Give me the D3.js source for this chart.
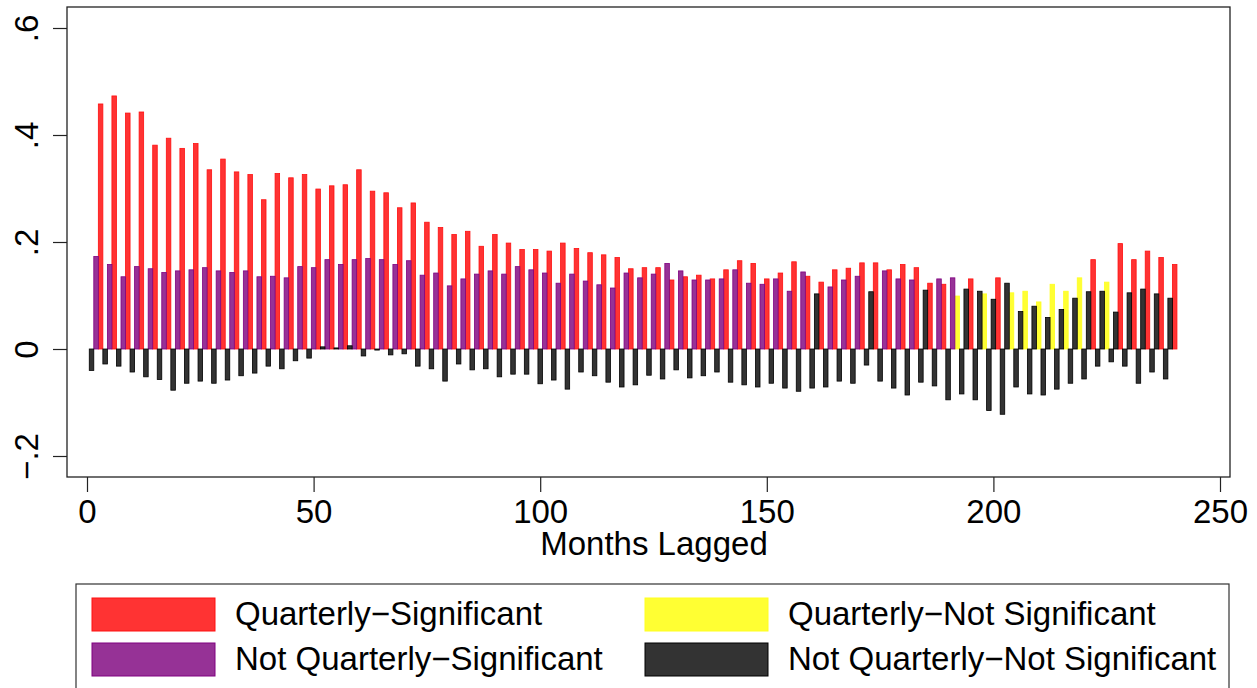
<!DOCTYPE html>
<html><head><meta charset="utf-8">
<script src="https://cdn.jsdelivr.net/npm/d3@7"></script>
<style>body{margin:0;background:#fff}svg{display:block}text{font-family:"Liberation Sans",Arial,sans-serif;fill:#000}</style>
</head><body><svg id="chart" width="1257" height="688"></svg>
<script>
// Months lagged (categories)
const lagMonths = d3.range(1, 241);
// Coefficient per month lag
const coefficients = [
 -0.040,0.173,0.458, -0.028,0.158,0.473, -0.032,0.135,0.441, -0.043,0.154,0.443,
 -0.052,0.150,0.381, -0.057,0.143,0.394, -0.077,0.146,0.375, -0.064,0.148,0.384,
 -0.060,0.152,0.335, -0.064,0.146,0.355, -0.058,0.143,0.331, -0.050,0.146,0.326,
 -0.045,0.135,0.279, -0.032,0.136,0.328, -0.037,0.133,0.320, -0.022,0.154,0.326,
 -0.017,0.152,0.299, 0.004,0.167,0.305, 0.002,0.158,0.307, 0.006,0.167,0.335,
 -0.013,0.169,0.295, -0.002,0.167,0.292, -0.011,0.158,0.264, -0.009,0.165,0.273,
 -0.032,0.138,0.237, -0.037,0.142,0.227, -0.060,0.118,0.214, -0.028,0.131,0.220,
 -0.039,0.140,0.192, -0.037,0.146,0.214, -0.052,0.140,0.198, -0.047,0.154,0.186,
 -0.047,0.148,0.186, -0.065,0.142,0.183, -0.058,0.123,0.198, -0.075,0.140,0.188,
 -0.043,0.127,0.180, -0.050,0.120,0.176, -0.062,0.114,0.171, -0.071,0.142,0.150,
 -0.067,0.133,0.152, -0.049,0.140,0.152, -0.056,0.160,0.129, -0.039,0.146,0.135,
 -0.054,0.129,0.138, -0.050,0.129,0.131, -0.043,0.131,0.148, -0.062,0.148,0.165,
 -0.067,0.123,0.160, -0.071,0.121,0.131, -0.064,0.131,0.142, -0.073,0.108,0.163,
 -0.079,0.144,0.136, -0.073,0.103,0.125, -0.071,0.116,0.148, -0.060,0.129,0.151,
 -0.064,0.136,0.161, -0.030,0.107,0.161, -0.060,0.146,0.148, -0.073,0.131,0.158,
 -0.086,0.129,0.152, -0.062,0.110,0.123, -0.069,0.131,0.121, -0.095,0.133,0.099,
 -0.084,0.112,0.131, -0.095,0.108,0.103, -0.115,0.093,0.133, -0.122,0.123,0.105,
 -0.071,0.070,0.108, -0.084,0.080,0.088, -0.086,0.059,0.121, -0.075,0.074,0.108,
 -0.064,0.095,0.133, -0.056,0.107,0.167, -0.032,0.108,0.125, -0.024,0.069,0.197,
 -0.032,0.105,0.167, -0.064,0.112,0.183, -0.043,0.103,0.171, -0.056,0.095,0.158
];
// Group per month: R=Quarterly-Significant, Y=Quarterly-Not Significant,
// P=Not Quarterly-Significant, B=Not Quarterly-Not Significant
const groupCodes = (
 "BPR BPR BPR BPR BPR BPR BPR BPR BPR BPR BPR BPR BPR BPR BPR BPR BPR BPR BPR BPR " +
 "BPR BPR BPR BPR BPR BPR BPR BPR BPR BPR BPR BPR BPR BPR BPR BPR BPR BPR BPR BPR " +
 "BPR BPR BPR BPR BPR BPR BPR BPR BPR BPR BPR BPR BPR BBR BPR BPR BPR BBR BPR BPR " +
 "BPR BBR BPR BPY BBR BBY BBR BBY BBY BBY BBY BBY BBY BBR BBY BBR BBR BBR BBR BBR"
).replace(/ /g, "").split("");

const xTicks = [0, 50, 100, 150, 200, 250];
const yTicks = [-0.2, 0, 0.2, 0.4, 0.6];
const yTickLabels = ["\u2212.2", "0", ".2", ".4", ".6"];
const legendKeys = ["R", "Y", "P", "B"];
const legendLabels = ["Quarterly\u2212Significant", "Quarterly\u2212Not Significant",
  "Not Quarterly\u2212Significant", "Not Quarterly\u2212Not Significant"];
const xTitle = "Months Lagged";

const fills = {R: "#ff3333", Y: "#ffff33", P: "#963296", B: "#333333"};
const strokes = {R: "#ff1010", Y: "#ffff20", P: "#800080", B: "#000000"};

const svg = d3.select("#chart");
svg.append("rect").attr("width", 1257).attr("height", 688).attr("fill", "#fff");

const x = d3.scaleLinear().domain([0, 250]).range([87, 1220]);
const y = d3.scaleLinear().domain([-0.2, 0.6]).range([456, 28]);
const plot = {left: 67, top: 7, right: 1230, bottom: 477};

const data = lagMonths.map((m, i) => ({m, v: coefficients[i], g: groupCodes[i]}));
const bw = x(1) - x(0);

const barsG = svg.append("g");
["R", "Y", "P", "B"].forEach(k => {
  barsG.selectAll(null).data(data.filter(d => d.g === k)).join("rect")
    .attr("x", d => x(d.m) - bw / 2)
    .attr("width", bw)
    .attr("y", d => y(Math.max(0, d.v)))
    .attr("height", d => Math.abs(y(d.v) - y(0)))
    .attr("fill", fills[k])
    .attr("stroke", strokes[k])
    .attr("stroke-width", 0.8);
});

// plot frame
svg.append("rect")
  .attr("x", plot.left).attr("y", plot.top)
  .attr("width", plot.right - plot.left).attr("height", plot.bottom - plot.top)
  .attr("fill", "none").attr("stroke", "#222").attr("stroke-width", 1.3);

// y axis
const yAxis = svg.append("g").attr("transform", `translate(${plot.left},0)`)
  .call(d3.axisLeft(y).tickValues(yTicks).tickSize(14).tickFormat((d, i) => yTickLabels[i]));
yAxis.select(".domain").remove();
yAxis.selectAll(".tick line").attr("stroke", "#222").attr("stroke-width", 1.2);
yAxis.selectAll(".tick text")
  .attr("transform", "rotate(-90)")
  .attr("x", 0).attr("y", -29).attr("dy", 0)
  .attr("text-anchor", "middle")
  .style("font-size", "33px").style("font-family", "'Liberation Sans', Arial, sans-serif");

// x axis
const xAxis = svg.append("g").attr("transform", `translate(0,${plot.bottom})`)
  .call(d3.axisBottom(x).tickValues(xTicks).tickSize(15).tickFormat(d3.format("d")));
xAxis.select(".domain").remove();
xAxis.selectAll(".tick line").attr("stroke", "#222").attr("stroke-width", 1.2);
xAxis.selectAll(".tick text")
  .attr("y", 46).attr("dy", 0)
  .style("font-size", "33px").style("font-family", "'Liberation Sans', Arial, sans-serif");

svg.append("text").attr("x", 654).attr("y", 555).attr("text-anchor", "middle")
  .style("font-size", "33px").text(xTitle);

// legend
svg.append("rect").attr("x", 76).attr("y", 584).attr("width", 1153).attr("height", 130)
  .attr("fill", "#fff").attr("stroke", "#333").attr("stroke-width", 1.2);
const legPos = [[92, 598], [645, 598], [92, 643], [645, 643]];
legendKeys.forEach((k, i) => {
  const [lx, ly] = legPos[i];
  svg.append("rect").attr("x", lx).attr("y", ly).attr("width", 123).attr("height", 33)
    .attr("fill", fills[k]).attr("stroke", strokes[k]).attr("stroke-width", 1);
  svg.append("text").attr("x", lx + 143).attr("y", ly + 27)
    .style("font-size", "33px").text(legendLabels[i]);
});
</script>
</body></html>
